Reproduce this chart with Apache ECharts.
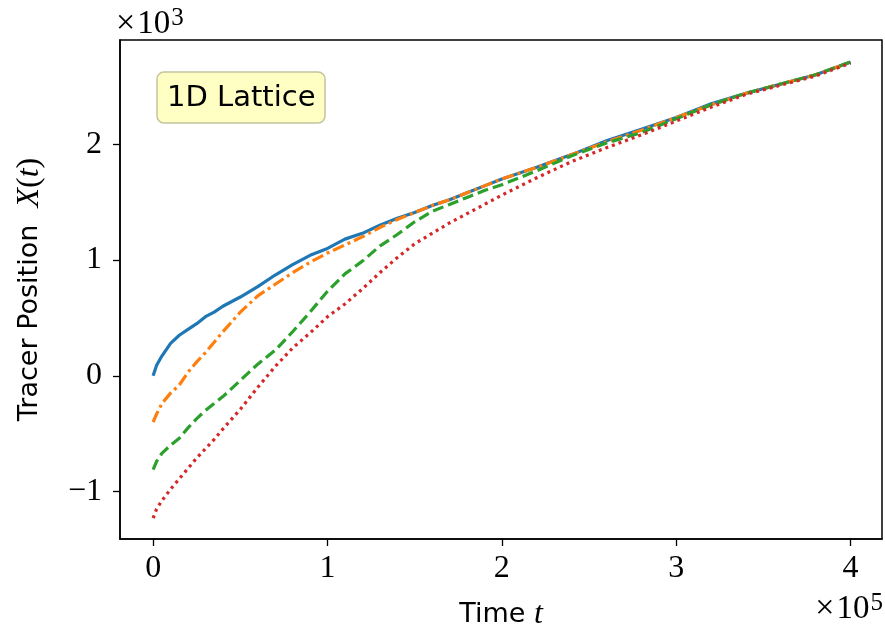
<!DOCTYPE html>
<html>
<head>
<meta charset="utf-8">
<script src="https://cdn.jsdelivr.net/npm/echarts@6/dist/echarts.min.js"></script>
<style>
html, body { margin: 0; padding: 0; background: #fff; }
#main { width: 885px; height: 625px; }
</style>
</head>
<body>
<div id="main"></div>
<script>
// time in units of 1e5, position in units of 1e3
var timeT = [0, 0.02, 0.05, 0.1, 0.15, 0.2, 0.25, 0.3, 0.35, 0.4, 0.5, 0.6, 0.7, 0.8, 0.9, 1.0,
  1.1, 1.2, 1.3, 1.4, 1.5, 1.6, 1.7, 1.8, 1.9, 2.0, 2.2, 2.4, 2.6, 2.8, 3.0, 3.2, 3.4, 3.6, 3.8, 4.0];

var posBlue = [0, 0.09, 0.17, 0.28, 0.35, 0.40, 0.45, 0.51, 0.55, 0.60, 0.68, 0.77, 0.87, 0.96, 1.04, 1.10,
  1.18, 1.23, 1.30, 1.36, 1.41, 1.47, 1.52, 1.58, 1.64, 1.70, 1.80, 1.91, 2.03, 2.13, 2.23, 2.35, 2.44, 2.52, 2.60, 2.71];
var posOrange = [-0.40, -0.33, -0.24, -0.15, -0.08, 0.03, 0.12, 0.20, 0.29, 0.38, 0.55, 0.69, 0.79, 0.89, 0.98, 1.06,
  1.13, 1.20, 1.28, 1.35, 1.41, 1.47, 1.52, 1.58, 1.64, 1.70, 1.80, 1.91, 2.02, 2.12, 2.23, 2.34, 2.44, 2.52, 2.60, 2.71];
var posGreen = [-0.81, -0.74, -0.67, -0.60, -0.54, -0.45, -0.37, -0.30, -0.24, -0.18, -0.04, 0.10, 0.22, 0.38, 0.55, 0.73,
  0.88, 0.99, 1.12, 1.22, 1.33, 1.42, 1.48, 1.54, 1.60, 1.65, 1.77, 1.90, 2.01, 2.10, 2.22, 2.34, 2.44, 2.52, 2.60, 2.71];
var posRed = [-1.23, -1.15, -1.08, -0.98, -0.89, -0.80, -0.71, -0.63, -0.55, -0.46, -0.29, -0.10, 0.08, 0.24, 0.37, 0.51,
  0.62, 0.75, 0.89, 1.02, 1.14, 1.23, 1.32, 1.40, 1.48, 1.56, 1.71, 1.85, 1.97, 2.08, 2.20, 2.32, 2.43, 2.51, 2.59, 2.70];

var xTicks = [0, 1, 2, 3, 4];
var yTicks = [-1, 0, 1, 2];

function pairs(ys) {
  return timeT.map(function (t, i) { return [t, ys[i]]; });
}

var serif = '"Liberation Serif", "DejaVu Serif", serif';
var sans = '"DejaVu Sans", sans-serif';

// "x10^n" multiplier labels drawn as titles with rich text
var powRich = {
  x: { fontFamily: serif, fontSize: 34, color: '#000', fontWeight: 'normal', padding: [0, 2, 0, 0] },
  a: { fontFamily: serif, fontSize: 33, color: '#000', fontWeight: 'normal' },
  s: { fontFamily: serif, fontSize: 25, color: '#000', fontWeight: 'normal', verticalAlign: 'top', padding: [0, 0, 12, 1] }
};

var chart = echarts.init(document.getElementById('main'), null, { renderer: 'canvas' });

var option = {
  animation: false,
  backgroundColor: '#fff',
  grid: {
    left: 120, right: 3, top: 40, bottom: 86,
    containLabel: false, outerBoundsMode: 'none',
    show: true, borderColor: '#000', borderWidth: 1.5, backgroundColor: 'transparent'
  },
  xAxis: {
    type: 'value',
    min: -0.19, max: 4.18,
    axisLine: { show: true, onZero: false, lineStyle: { color: '#000', width: 1.5 } },
    axisTick: { show: true, customValues: xTicks, length: 7, lineStyle: { color: '#000', width: 1.3 } },
    axisLabel: {
      customValues: xTicks, margin: 14, color: '#000',
      fontFamily: serif, fontSize: 32
    },
    splitLine: { show: false },
    name: '{a|Time }{m|t}',
    nameLocation: 'middle',
    nameGap: 60,
    nameTextStyle: {
      rich: {
        a: { fontFamily: sans, fontSize: 27, color: '#000' },
        m: { fontFamily: serif, fontStyle: 'italic', fontSize: 32, color: '#000' }
      }
    }
  },
  yAxis: {
    type: 'value',
    min: -1.41, max: 2.9,
    axisLine: { show: true, onZero: false, lineStyle: { color: '#000', width: 1.5 } },
    axisTick: { show: true, customValues: yTicks, length: 7, lineStyle: { color: '#000', width: 1.3 } },
    axisLabel: {
      customValues: yTicks, margin: 18, color: '#000',
      fontFamily: serif, fontSize: 32,
      formatter: function (v) { return v < 0 ? '\u2212' + Math.abs(v) : String(v); }
    },
    splitLine: { show: false },
    name: '{a|Tracer Position  }{m|X}{p|(}{m|t}{p|)}',
    nameLocation: 'middle',
    nameGap: 74,
    nameRotate: 90,
    nameTextStyle: {
      rich: {
        a: { fontFamily: sans, fontSize: 27, color: '#000' },
        m: { fontFamily: serif, fontStyle: 'italic', fontSize: 32, color: '#000' },
        p: { fontFamily: serif, fontSize: 32, color: '#000' }
      }
    }
  },
  title: [
    {
      text: '1D Lattice',
      left: 157, top: 72,
      padding: [10, 10, 9, 10],
      backgroundColor: '#ffffc4',
      borderColor: '#c4c4a0',
      borderWidth: 1.5,
      borderRadius: 7,
      textStyle: { fontFamily: sans, fontSize: 29, fontWeight: 'normal', color: '#000', lineHeight: 32 }
    },
    {
      text: '{x|\u00d7}{a|10}{s|3}',
      left: 116, top: 6, padding: 0,
      textStyle: { rich: powRich }
    },
    {
      text: '{x|\u00d7}{a|10}{s|5}',
      right: 2, top: 591, padding: 0,
      textStyle: { rich: powRich }
    }
  ],
  series: [
    {
      type: 'line', data: pairs(posBlue), showSymbol: false, z: 2,
      lineStyle: { color: '#1f77b4', width: 3.2, type: 'solid' }
    },
    {
      type: 'line', data: pairs(posOrange), showSymbol: false, z: 3,
      lineStyle: { color: '#ff7f0e', width: 3.2, type: [12, 4, 3, 4] }
    },
    {
      type: 'line', data: pairs(posGreen), showSymbol: false, z: 4,
      lineStyle: { color: '#2ca02c', width: 3.2, type: [11, 5] }
    },
    {
      type: 'line', data: pairs(posRed), showSymbol: false, z: 5,
      lineStyle: { color: '#d62728', width: 3.2, type: [3, 4] }
    }
  ]
};

chart.setOption(option);
</script>
</body>
</html>
